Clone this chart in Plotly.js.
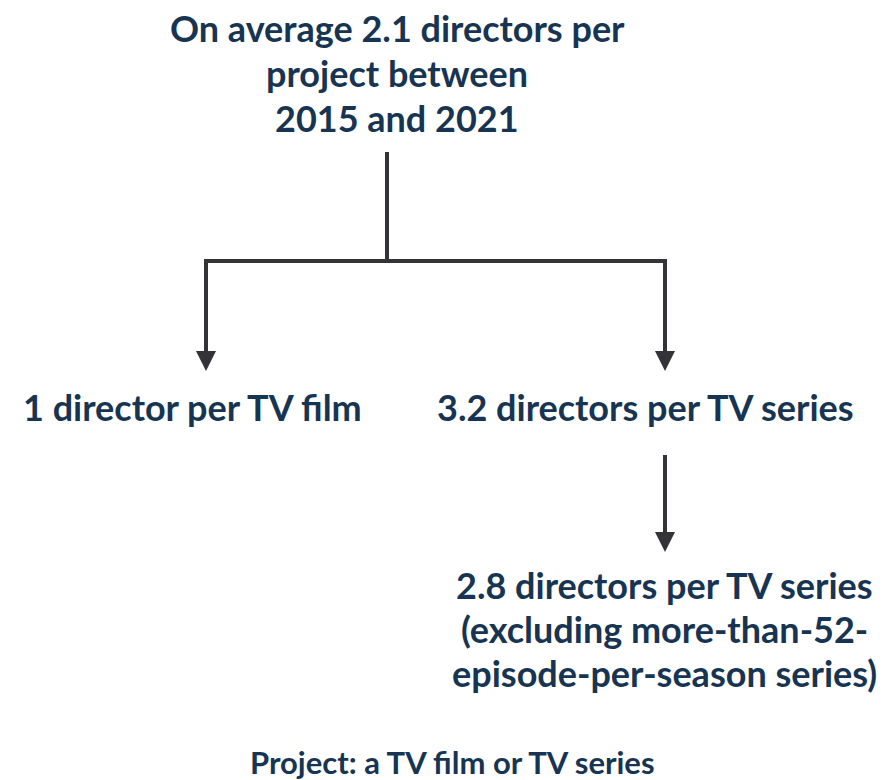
<!DOCTYPE html>
<html>
<head>
<meta charset="utf-8">
<script src="https://cdn.plot.ly/plotly-3.0.1.min.js"></script>
<style>html,body{margin:0;padding:0;background:#fff;}#chart{width:896px;height:780px;}</style>
</head>
<body>
<div id="chart"></div>
<script>
// ---- data ----
const avgPerProject = 2.1;
const perTvFilm = 1;
const perTvSeries = 3.2;
const perTvSeriesExcl = 2.8;
const periodStart = 2015;
const periodEnd = 2021;
const footnote = "Project: a TV film or TV series";

const titleLines = [
  "On average " + avgPerProject + " directors per",
  "project between",
  periodStart + " and " + periodEnd
];
const filmLines = [perTvFilm + " director per TV film"];
const seriesLines = [perTvSeries + " directors per TV series"];
const exclLines = [
  perTvSeriesExcl + " directors per TV series",
  "(excluding more-than-52-",
  "episode-per-season series)"
];

// ---- layout (positions & styles) ----
const W = 896, H = 780;
const textColor = "#173552";
const lineColor = "#333338";
const fontFam = "Lato, 'Open Sans', sans-serif";

const blocks = [
  {lines: titleLines, x: 397, y0: 28, gap: 45, size: 36},
  {lines: filmLines, x: 192, y0: 407, gap: 44, size: 36},
  {lines: seriesLines, x: 645, y0: 407, gap: 44, size: 36},
  {lines: exclLines, x: 664, y0: 585, gap: 44, size: 36},
  {lines: [footnote], x: 452, y0: 762, gap: 44, size: 31}
];

const annotations = [];
blocks.forEach(b => {
  b.lines.forEach((t, i) => {
    annotations.push({
      x: b.x, y: b.y0 + i * b.gap, xref: "x", yref: "y",
      text: "<b>" + t + "</b>", showarrow: false,
      xanchor: "center", yanchor: "middle",
      font: {family: fontFam, size: b.size, color: textColor}
    });
  });
});

// connector paths
const paths = [
  {x: [387, 387], y: [152, 261]},
  {x: [206, 206, 665, 665], y: [358, 261, 261, 358]},
  {x: [665, 665], y: [455, 540]}
];
// arrow heads: [x, tipY, tailY]
const heads = [[206, 371, 340], [665, 371, 340], [665, 552, 521]];
heads.forEach(h => {
  annotations.push({
    x: h[0], y: h[1], ax: h[0], ay: h[2],
    xref: "x", yref: "y", axref: "x", ayref: "y",
    text: "", showarrow: true, arrowhead: 2, arrowsize: 1.0,
    arrowwidth: 4, arrowcolor: lineColor, standoff: 0
  });
});

const traces = paths.map(p => ({
  type: "scatter", mode: "lines", x: p.x, y: p.y,
  line: {color: lineColor, width: 4}, hoverinfo: "skip", showlegend: false
}));

const layout = {
  width: W, height: H,
  margin: {l: 0, r: 0, t: 0, b: 0},
  paper_bgcolor: "#ffffff", plot_bgcolor: "#ffffff",
  xaxis: {range: [0, W], visible: false, fixedrange: true},
  yaxis: {range: [H, 0], visible: false, fixedrange: true},
  annotations: annotations,
  showlegend: false
};

Plotly.newPlot("chart", traces, layout, {displayModeBar: false, staticPlot: true});
</script>
</body>
</html>
